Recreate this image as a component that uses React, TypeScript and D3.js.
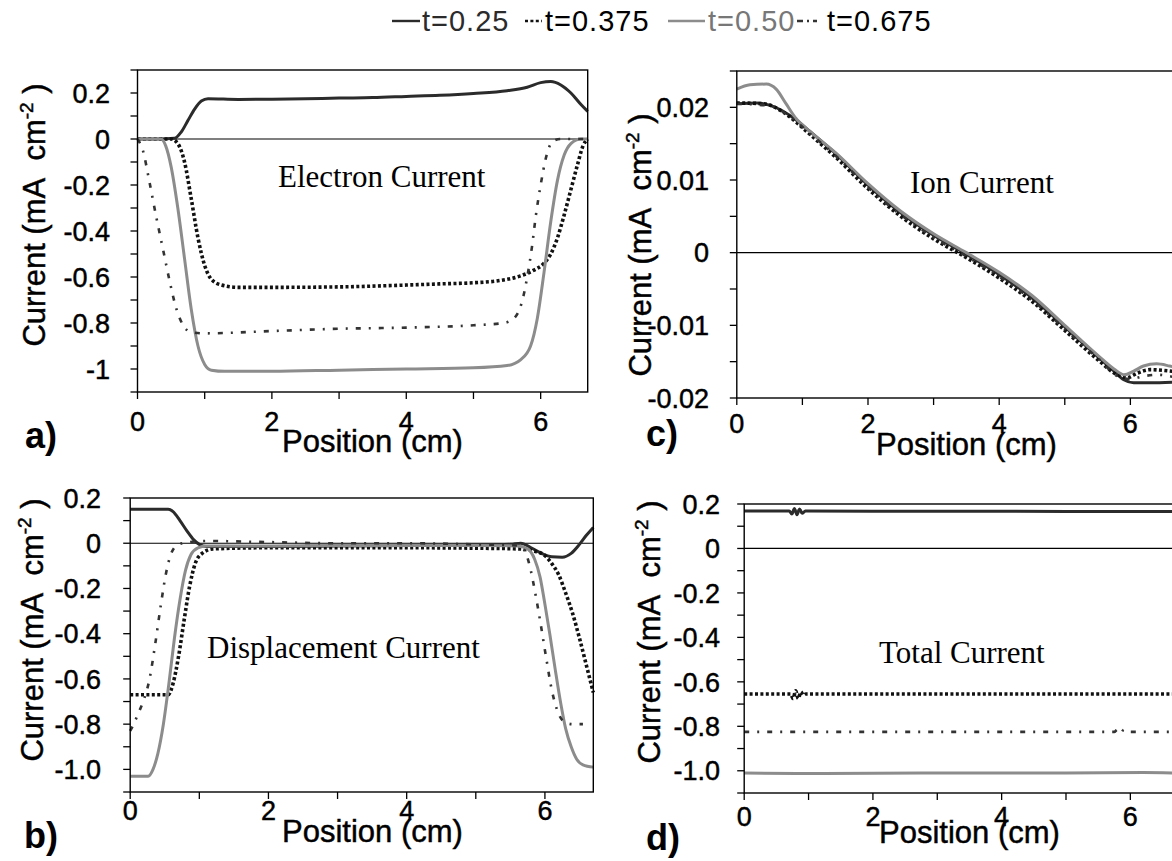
import React from 'react';
import * as d3 from 'd3';

type Pt = [number, number];

const seriesNames = ['t=0.25', 't=0.375', 't=0.50', 't=0.675'];
const xTicksMajor = [0, 2, 4, 6];
const xTicksMinor = [0, 1, 2, 3, 4, 5, 6];

// ---- panel a: Electron Current
const elec025: Pt[] = [[0,0],[0.3,0],[0.55,0.003],[0.65,0.03],[0.75,0.08],[0.85,0.13],[0.95,0.165],[1.05,0.175],[1.5,0.172],[2,0.173],[2.5,0.175],[3,0.178],[3.5,0.18],[4,0.185],[4.5,0.19],[5,0.198],[5.5,0.21],[5.8,0.225],[6.0,0.245],[6.15,0.25],[6.3,0.235],[6.45,0.2],[6.6,0.15],[6.7,0.12]];
const elec0375: Pt[] = [[0,0],[0.5,0],[0.6,-0.02],[0.7,-0.1],[0.8,-0.26],[0.9,-0.43],[1.0,-0.55],[1.1,-0.61],[1.25,-0.635],[1.5,-0.645],[2,-0.645],[3,-0.643],[4,-0.635],[4.5,-0.63],[5,-0.625],[5.4,-0.615],[5.7,-0.595],[5.9,-0.57],[6.05,-0.54],[6.15,-0.5],[6.25,-0.43],[6.35,-0.33],[6.45,-0.22],[6.55,-0.11],[6.63,-0.03],[6.7,0]];
const elec050: Pt[] = [[0,0],[0.35,0],[0.42,-0.03],[0.5,-0.12],[0.6,-0.3],[0.7,-0.52],[0.8,-0.74],[0.9,-0.9],[1.0,-0.98],[1.1,-1.005],[1.3,-1.01],[2,-1.01],[3,-1.005],[4,-1.0],[5,-0.995],[5.5,-0.985],[5.7,-0.96],[5.85,-0.9],[5.95,-0.78],[6.05,-0.58],[6.15,-0.36],[6.25,-0.18],[6.35,-0.07],[6.45,-0.02],[6.6,0],[6.7,0]];
const elec0675: Pt[] = [[0,0],[0.08,-0.05],[0.18,-0.19],[0.28,-0.34],[0.38,-0.48],[0.48,-0.62],[0.58,-0.74],[0.68,-0.81],[0.8,-0.84],[1.0,-0.845],[2,-0.835],[3,-0.825],[4,-0.82],[5,-0.81],[5.45,-0.8],[5.6,-0.78],[5.72,-0.71],[5.8,-0.6],[5.87,-0.47],[5.93,-0.33],[6.0,-0.2],[6.08,-0.08],[6.18,-0.01],[6.3,0],[6.7,0]];

// ---- panel b: Displacement Current
const disp025: Pt[] = [[0,0.15],[0.55,0.15],[0.62,0.14],[0.72,0.1],[0.82,0.055],[0.92,0.015],[1.0,-0.005],[1.1,-0.015],[2,-0.015],[3,-0.012],[4,-0.01],[5,-0.008],[5.5,-0.005],[5.65,0.0],[5.8,-0.02],[5.95,-0.045],[6.1,-0.06],[6.25,-0.062],[6.38,-0.045],[6.5,-0.005],[6.6,0.035],[6.7,0.07]];
const disp0375: Pt[] = [[0,-0.67],[0.55,-0.67],[0.62,-0.62],[0.7,-0.5],[0.78,-0.34],[0.86,-0.19],[0.94,-0.09],[1.04,-0.045],[1.2,-0.025],[2,-0.02],[3,-0.02],[4,-0.02],[5,-0.022],[5.6,-0.025],[5.85,-0.035],[6.0,-0.055],[6.1,-0.09],[6.2,-0.14],[6.3,-0.22],[6.4,-0.31],[6.5,-0.42],[6.6,-0.54],[6.7,-0.66]];
const disp050: Pt[] = [[0,-1.03],[0.26,-1.03],[0.33,-1.0],[0.4,-0.93],[0.48,-0.8],[0.56,-0.62],[0.64,-0.42],[0.72,-0.25],[0.8,-0.12],[0.88,-0.05],[0.98,-0.02],[1.1,-0.012],[2,-0.012],[3,-0.01],[4,-0.01],[5,-0.01],[5.6,-0.012],[5.75,-0.025],[5.85,-0.07],[5.93,-0.15],[6.0,-0.27],[6.07,-0.4],[6.15,-0.56],[6.23,-0.71],[6.3,-0.82],[6.38,-0.9],[6.46,-0.955],[6.55,-0.98],[6.7,-0.99]];
const disp0675: Pt[] = [[0,-0.83],[0.05,-0.8],[0.12,-0.75],[0.2,-0.69],[0.28,-0.6],[0.36,-0.45],[0.44,-0.28],[0.52,-0.13],[0.6,-0.04],[0.7,-0.005],[0.85,0.005],[1.1,0.01],[2,0.005],[3,0.0],[4,0.0],[5,-0.005],[5.6,-0.01],[5.7,-0.03],[5.78,-0.1],[5.86,-0.22],[5.94,-0.36],[6.02,-0.51],[6.1,-0.65],[6.18,-0.74],[6.28,-0.79],[6.4,-0.8],[6.55,-0.8]];

// ---- panel c: Ion Current
const ion025: Pt[] = [[0,0.0205],[0.3,0.0206],[0.5,0.0203],[0.7,0.0195],[0.9,0.0183],[1.1,0.0168],[1.5,0.0137],[2,0.0093],[2.5,0.0055],[3,0.0024],[3.5,-0.0002],[4,-0.003],[4.5,-0.0062],[5,-0.0102],[5.5,-0.0143],[5.75,-0.0163],[5.9,-0.0175],[6.05,-0.0179],[6.3,-0.0179],[6.7,-0.0178]];
const ion0375: Pt[] = [[0,0.0206],[0.4,0.0205],[0.7,0.0194],[0.9,0.018],[1.1,0.0164],[1.5,0.0132],[2,0.0088],[2.5,0.005],[3,0.0019],[3.5,-0.0007],[4,-0.0035],[4.5,-0.0067],[5,-0.0107],[5.5,-0.0147],[5.8,-0.0168],[5.95,-0.0172],[6.1,-0.0166],[6.3,-0.0161],[6.5,-0.0162],[6.7,-0.0164]];
const ion050: Pt[] = [[0,0.0225],[0.2,0.0231],[0.45,0.0232],[0.6,0.0225],[0.75,0.0205],[0.9,0.0185],[1.1,0.0168],[1.5,0.0138],[2,0.0095],[2.5,0.0057],[3,0.0026],[3.5,0.0],[4,-0.0027],[4.5,-0.0059],[5,-0.01],[5.5,-0.0141],[5.75,-0.016],[5.9,-0.0168],[6.05,-0.0163],[6.2,-0.0156],[6.4,-0.0153],[6.6,-0.0156],[6.7,-0.0158]];
const ion0675: Pt[] = [[0,0.0205],[0.5,0.0202],[0.8,0.0188],[1.1,0.0165],[1.5,0.0134],[2,0.009],[2.5,0.0052],[3,0.0021],[3.5,-0.0005],[4,-0.0033],[4.5,-0.0065],[5,-0.0105],[5.5,-0.0145],[5.85,-0.0172],[6.0,-0.0174],[6.2,-0.017],[6.4,-0.0168],[6.7,-0.0172]];

// ---- panel d: Total Current
const tot025: Pt[] = [[0,0.168],[0.7,0.168],[0.74,0.155],[0.78,0.18],[0.82,0.152],[0.86,0.178],[0.9,0.158],[0.95,0.168],[2,0.167],[4,0.167],[6,0.166],[6.7,0.166]];
const tot0375: Pt[] = [[0,-0.655],[0.72,-0.655],[0.76,-0.675],[0.8,-0.64],[0.84,-0.675],[0.88,-0.645],[0.92,-0.66],[0.96,-0.655],[2,-0.655],[4,-0.655],[6,-0.655],[6.7,-0.655]];
const tot050: Pt[] = [[0,-1.01],[1,-1.012],[3,-1.01],[5,-1.01],[6.2,-1.008],[6.7,-1.01]];
const tot0675: Pt[] = [[0,-0.825],[5.75,-0.825],[5.8,-0.815],[5.85,-0.83],[5.9,-0.815],[5.95,-0.825],[6.7,-0.825]];

// tick labels
const yTicksA = [0.2, 0, -0.2, -0.4, -0.6, -0.8, -1];
const yLabelsA = ['0.2', '0', '-0.2', '-0.4', '-0.6', '-0.8', '-1'];
const yTicksB = [0.2, 0, -0.2, -0.4, -0.6, -0.8, -1.0];
const yLabelsB = ['0.2', '0', '-0.2', '-0.4', '-0.6', '-0.8', '-1.0'];
const yTicksC = [0.02, 0.01, 0, -0.01, -0.02];
const yLabelsC = ['0.02', '0.01', '0', '-0.01', '-0.02'];

const styles = [
  { stroke: '#2b2b2b', width: 3, dash: undefined as string | undefined },
  { stroke: '#111', width: 3.6, dash: '3,2.4' },
  { stroke: '#8c8c8c', width: 3, dash: undefined },
  { stroke: '#333', width: 2.6, dash: '5,8,2,8' },
];

const SANS = '"Liberation Sans", Arial, Helvetica, sans-serif';
const SERIF = '"Liberation Serif", "Times New Roman", serif';

interface PanelProps {
  xr: [number, number];
  yd: [number, number];
  yr: [number, number];
  series: Pt[][];
  yTicks: number[];
  yLabels: string[];
  yMinorStep: number;
  title: string;
  titleX: number;
  titleY: number;
  letter: string;
  letterX: number;
  letterY: number;
  ylabX: number;
  ylabY: number;
  yTickRight: number;
  xLabBase: number;
  posX: number;
  posBase: number;
}

const heavy = { stroke: '#000', strokeWidth: 0.45 };

function Panel(p: PanelProps) {
  const x = d3.scaleLinear().domain([0, 6.7]).range(p.xr);
  const y = d3.scaleLinear().domain(p.yd).range(p.yr);
  const line = d3.line<Pt>().x(d => x(d[0])).y(d => y(d[1])).curve(d3.curveMonotoneX);
  const minor = d3.range(Math.ceil(p.yd[0] / p.yMinorStep - 1e-6), Math.floor(p.yd[1] / p.yMinorStep + 1e-6) + 1).map(k => k * p.yMinorStep);
  const x0 = p.xr[0], x1 = p.xr[1];
  const yTop = p.yr[1], yBot = p.yr[0];
  return (
    <g>
      <line x1={x0} x2={x1} y1={y(0)} y2={y(0)} stroke="#000" strokeWidth={1.2} />
      {p.series.map((s, i) => (
        <path key={i} d={line(s) || ''} fill="none" stroke={styles[i].stroke} strokeWidth={styles[i].width}
          strokeDasharray={styles[i].dash} strokeLinejoin="round" />
      ))}
      <rect x={x0} y={yTop} width={x1 - x0} height={yBot - yTop} fill="none" stroke="#000" strokeWidth={1.4} />
      {minor.map((v, i) => (
        <line key={'ym' + i} x1={x0 - 7} x2={x0} y1={y(v)} y2={y(v)} stroke="#000" strokeWidth={1.3} />
      ))}
      {p.yTicks.map((v, i) => (
        <text key={'yl' + i} x={p.yTickRight} y={y(v)} dy="0.36em" textAnchor="end" fontFamily={SANS} fontSize={27} fill="#000" {...heavy}>
          {p.yLabels[i]}
        </text>
      ))}
      {xTicksMinor.map((v, i) => (
        <line key={'xm' + i} x1={x(v)} x2={x(v)} y1={yBot} y2={yBot + 7} stroke="#000" strokeWidth={1.3} />
      ))}
      {xTicksMajor.map((v, i) => (
        <text key={'xl' + i} x={x(v)} y={p.xLabBase} textAnchor="middle" fontFamily={SANS} fontSize={27} fill="#000" {...heavy}>
          {String(v)}
        </text>
      ))}
      <text x={p.posX} y={p.posBase} fontFamily={SANS} fontSize={31} fill="#000" {...heavy}>Position (cm)</text>
      <text x={p.titleX} y={p.titleY} fontFamily={SERIF} fontSize={31} fill="#000">{p.title}</text>
      <text x={p.letterX} y={p.letterY} fontFamily={SANS} fontSize={36} fontWeight="bold" fill="#000">{p.letter}</text>
      <text transform={`translate(${p.ylabX},${p.ylabY}) rotate(-90)`} textAnchor="middle" fontFamily={SANS} fontSize={31} fill="#000" {...heavy}>
        Current (mA{'\u00a0\u00a0'}cm<tspan dy={-12} fontSize={19}>-2</tspan><tspan dy={12}>{'\u00a0)'}</tspan>
      </text>
    </g>
  );
}

function Legend() {
  const items = [
    { lx: [392, 420], tx: 422, color: '#2b2b2b' },
    { lx: [525, 542], tx: 545, color: '#000' },
    { lx: [668, 705], tx: 708, color: '#777' },
    { lx: [797, 817], tx: 827, color: '#000' },
  ];
  return (
    <g>
      {items.map((it, i) => (
        <g key={i}>
          <line x1={it.lx[0]} x2={it.lx[1]} y1={21} y2={21} stroke={styles[i].stroke} strokeWidth={2.4}
            strokeDasharray={i === 3 ? '6,4,2,4' : styles[i].dash} />
          <text x={it.tx} y={31} fontFamily={SANS} fontSize={29} letterSpacing={1} fill={it.color}>{seriesNames[i]}</text>
        </g>
      ))}
    </g>
  );
}

export default function App() {
  return (
    <svg width={1172} height={861} viewBox="0 0 1172 861" style={{ position: 'absolute', left: 0, top: 0, background: '#fff' }}>
      <rect x={0} y={0} width={1172} height={861} fill="#fff" />
      <Legend />
      <Panel xr={[137.5, 587.7]} yd={[-1.1, 0.3]} yr={[392, 70]} series={[elec025, elec0375, elec050, elec0675]}
        yTicks={yTicksA} yLabels={yLabelsA} yMinorStep={0.1} title="Electron Current" titleX={278} titleY={187}
        letter="a)" letterX={25} letterY={448} ylabX={45} ylabY={215} yTickRight={110} xLabBase={431} posX={282} posBase={452} />
      <Panel xr={[130.2, 593.3]} yd={[-1.1, 0.2]} yr={[792, 498]} series={[disp025, disp0375, disp050, disp0675]}
        yTicks={yTicksB} yLabels={yLabelsB} yMinorStep={0.1} title="Displacement Current" titleX={207} titleY={658}
        letter="b)" letterX={24} letterY={848} ylabX={43} ylabY={630} yTickRight={101} xLabBase={820} posX={282} posBase={842} />
      <Panel xr={[736.8, 1176.3]} yd={[-0.02, 0.025]} yr={[398, 71]} series={[ion025, ion0375, ion050, ion0675]}
        yTicks={yTicksC} yLabels={yLabelsC} yMinorStep={0.005} title="Ion Current" titleX={910} titleY={193}
        letter="c)" letterX={646} letterY={446} ylabX={651} ylabY={245} yTickRight={709} xLabBase={433} posX={876} posBase={455} />
      <Panel xr={[744.2, 1175.4]} yd={[-1.1, 0.2]} yr={[793, 504]} series={[tot025, tot0375, tot050, tot0675]}
        yTicks={yTicksB} yLabels={yLabelsB} yMinorStep={0.1} title="Total Current" titleX={879} titleY={663}
        letter="d)" letterX={646} letterY={850} ylabX={660} ylabY={632} yTickRight={720} xLabBase={826} posX={879} posBase={843} />
    </svg>
  );
}
